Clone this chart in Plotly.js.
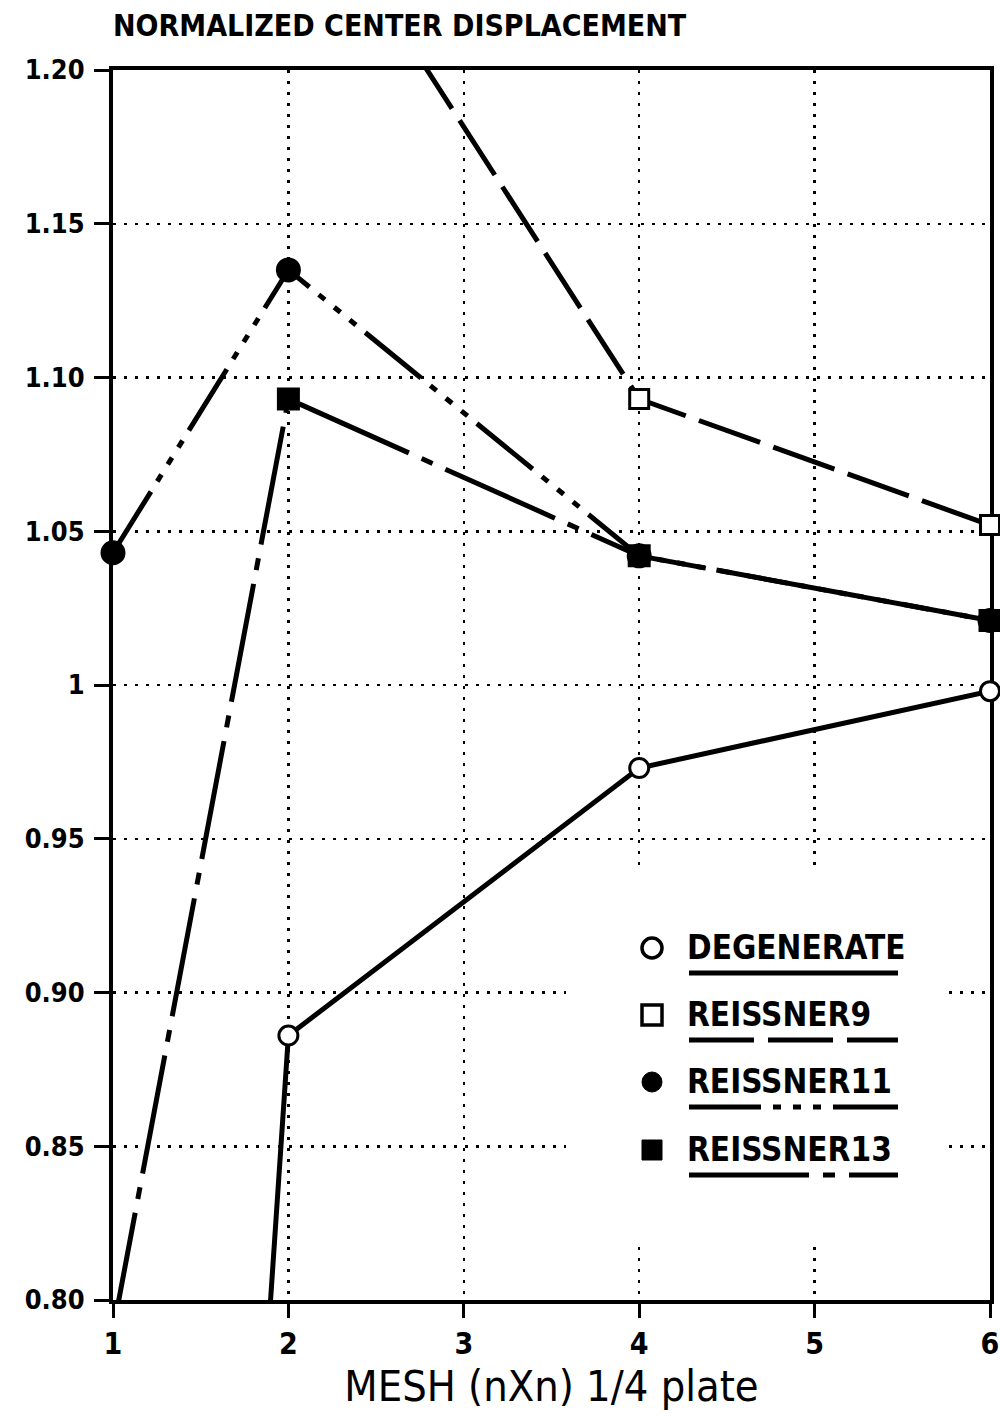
<!DOCTYPE html>
<html>
<head>
<meta charset="utf-8">
<script src="https://cdn.plot.ly/plotly-3.0.1.min.js"></script>
<style>html,body{margin:0;padding:0;background:#fff;}#chart{width:1000px;height:1416px;}</style>
</head>
<body>
<div id="chart"></div>
<script>
// ---- data ----
const seriesNames = ['DEGENERATE', 'REISSNER9', 'REISSNER11', 'REISSNER13'];
const xDegenerate = [1, 2, 4, 6];
const yDegenerate = [0.04, 0.886, 0.973, 0.998];
const xReissner9 = [2, 4, 6];
const yReissner9 = [1.27, 1.093, 1.052];
const xReissner11 = [1, 2, 4, 6];
const yReissner11 = [1.043, 1.135, 1.042, 1.021];
const xReissner13 = [1, 2, 4, 6];
const yReissner13 = [0.79, 1.093, 1.042, 1.021];
const xTicks = [1, 2, 3, 4, 5, 6];
const yTicks = [0.80, 0.85, 0.90, 0.95, 1.00, 1.05, 1.10, 1.15, 1.20];
const yTickText = ['0.80', '0.85', '0.90', '0.95', '1', '1.05', '1.10', '1.15', '1.20'];

// ---- styles ----
const dashes = ['solid', '65px,14px', '72px,12px,8px,12px,8px,12px,8px,12px', '120px,14px,12px,14px'];
const symbols = ['circle', 'square', 'circle', 'square'];
const fills = ['#ffffff', '#ffffff', '#000000', '#000000'];
const sizes = [19, 19, 22, 20];
const xs = [xDegenerate, xReissner9, xReissner11, xReissner13];
const ys = [yDegenerate, yReissner9, yReissner11, yReissner13];

const traces = seriesNames.map((n, i) => ({
  type: 'scatter', mode: 'lines+markers', name: n,
  x: xs[i], y: ys[i], cliponaxis: false, showlegend: false,
  line: {color: '#000', width: 5, dash: dashes[i]},
  marker: {symbol: symbols[i], size: sizes[i], color: fills[i], line: {color: '#000', width: 3}}
}));

// ---- manual legend (layout decoration, pixel placement) ----
const L = 113, W = 877, B = 1300, H = 1230;
const px = p => (p - L) / W;
const py = p => (B - p) / H;
const rowY = [948, 1015, 1082, 1150];
const shapes = [{
  type: 'rect', xref: 'paper', yref: 'paper', layer: 'above',
  x0: px(566), x1: px(945), y0: py(1245), y1: py(872),
  fillcolor: '#fff', line: {width: 0}
}];
const annotations = [];
seriesNames.forEach((n, i) => {
  const cy = rowY[i];
  shapes.push({
    type: symbols[i] === 'circle' ? 'circle' : 'rect', xref: 'paper', yref: 'paper', layer: 'above',
    xsizemode: 'pixel', ysizemode: 'pixel', xanchor: px(652), yanchor: py(cy),
    x0: -10, x1: 10, y0: -10, y1: 10,
    fillcolor: fills[i], line: {color: '#000', width: i === 0 || i === 1 ? 3.5 : 1}
  });
  shapes.push({
    type: 'line', xref: 'paper', yref: 'paper', layer: 'above',
    x0: px(689), x1: px(898), y0: py(cy + 25), y1: py(cy + 25),
    line: {color: '#000', width: 5, dash: dashes[i]}
  });
  annotations.push({
    xref: 'paper', yref: 'paper', x: px(685), y: py(cy - 1), xanchor: 'left', yanchor: 'middle',
    text: n, showarrow: false,
    font: {family: 'DejaVu Sans Condensed', size: 33, color: '#000', weight: 'bold'}
  });
});

const layout = {
  width: 1000, height: 1416,
  margin: {l: L, r: 1000 - L - W, t: 70, b: 1416 - B, pad: 0},
  paper_bgcolor: '#fff', plot_bgcolor: '#fff',
  title: {
    text: 'NORMALIZED CENTER DISPLACEMENT', xref: 'container', yref: 'container',
    x: 0.113, xanchor: 'left', y: 1 - 25 / 1416, yanchor: 'middle',
    font: {family: 'DejaVu Sans Condensed', size: 30, color: '#000', weight: 'bold'}
  },
  xaxis: {
    range: [1, 6], tickvals: xTicks, ticktext: xTicks.map(String),
    showline: true, mirror: true, linecolor: '#000', linewidth: 4,
    ticks: 'outside', ticklen: 14, tickwidth: 3, tickcolor: '#000',
    showgrid: true, gridcolor: '#000', gridwidth: 2.5, griddash: '3px,8px',
    zeroline: false, layer: 'below traces',
    tickfont: {family: 'DejaVu Sans Condensed', size: 30, color: '#000', weight: 'bold'},
    ticklabelstandoff: 0,
    title: {text: 'MESH (nXn) 1/4 plate', standoff: 6,
      font: {family: 'DejaVu Sans Condensed', size: 43, color: '#000'}}
  },
  yaxis: {
    range: [0.80, 1.20], tickvals: yTicks, ticktext: yTickText,
    showline: true, mirror: true, linecolor: '#000', linewidth: 4,
    ticks: 'outside', ticklen: 15, tickwidth: 3, tickcolor: '#000',
    showgrid: true, gridcolor: '#000', gridwidth: 2.5, griddash: '3px,8px',
    zeroline: false, layer: 'below traces',
    tickfont: {family: 'DejaVu Sans Condensed', size: 27, color: '#000', weight: 'bold'},
    ticklabelstandoff: 4
  },
  shapes: shapes,
  annotations: annotations,
  showlegend: false
};

Plotly.newPlot('chart', traces, layout, {staticPlot: true, displayModeBar: false});
</script>
</body>
</html>
